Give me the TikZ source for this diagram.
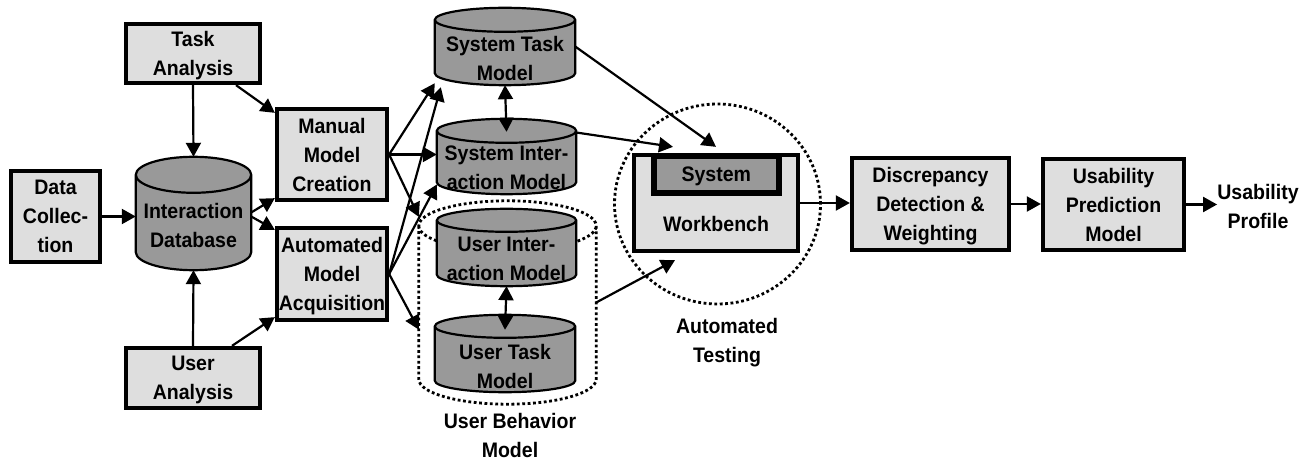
\documentclass[tikz,border=0pt]{standalone}
\usepackage{fontspec}
\usepackage{tikz}
\usetikzlibrary{arrows.meta,calc,shapes.geometric}
\newfontfamily\arialfont[FakeStretch=0.93]{Liberation Sans}
\newcommand{\diagfont}{\arialfont\bfseries\fontsize{21}{29}\selectfont}
\definecolor{boxgray}{gray}{0.87}
\definecolor{cylgray}{gray}{0.6}
\tikzset{
  blk/.style={draw, line width=4.3pt, fill=boxgray, inner sep=0pt, align=center, text depth=0pt, font=\diagfont},
  cylnode/.style={inner sep=0pt},
  cylbody/.style={draw, line width=2.2pt, fill=cylgray},
  dots/.style={draw, line width=2.8pt, dash pattern=on 2.8pt off 2.6pt},
  txt/.style={align=center, font=\diagfont, text depth=0pt, inner sep=0pt},
  arr/.style={line width=2.2pt, -{Triangle[length=14pt,width=15pt]}},
  darr/.style={line width=2.2pt, {Triangle[length=14pt,width=15pt]}-{Triangle[length=14pt,width=15pt]}},
}
% cylinder drawn round an empty node: style, node, y radius of the ends
\newcommand{\cylshape}[3]{%
  \path[#1] let \p1=(#2.north west), \p2=(#2.south east), \n1={(\x2-\x1)/2} in
    (\x1,\y1-#3pt) -- (\x1,\y2+#3pt)
    arc[start angle=180, end angle=360, x radius=\n1, y radius=#3pt]
    -- (\x2,\y1-#3pt)
    arc[start angle=0, end angle=180, x radius=\n1, y radius=#3pt] -- cycle
    (\x1,\y1-#3pt) arc[start angle=180, end angle=360, x radius=\n1, y radius=#3pt];
}
\begin{document}
\begin{tikzpicture}[x=1pt, y=1pt]
  \useasboundingbox (0,0) rectangle (1309,461);

  % boxes
  \node[blk, minimum width=134pt, minimum height=59pt] (ta) at (193,407.5) {Task\\Analysis};
  \node[blk, minimum width=89pt, minimum height=91pt] (dc) at (55.5,244.5) {Data\\Collec-\\tion};
  \node[blk, minimum width=134pt, minimum height=60pt] (ua) at (193,83) {User\\Analysis};
  \node[blk, minimum width=110pt, minimum height=91pt] (man) at (332,306.5) {Manual\\Model\\Creation};
  \node[blk, minimum width=110pt, minimum height=92pt] (au) at (332,187) {Automated\\Model\\Acquisition};
  \node[blk, minimum width=157pt, minimum height=92pt] (dd) at (930.5,257) {Discrepancy\\Detection \&\\Weighting};
  \node[blk, minimum width=141pt, minimum height=91pt] (upm) at (1113.5,256.5) {Usability\\Prediction\\Model};
  \node[txt] (prof) at (1258,254.5) {Usability\\Profile};

  % databases
  \node[cylnode, minimum width=177pt, minimum height=203pt] (ub) at (507.5,158.5) {};
  \cylshape{dots}{ub}{25}
  \node[txt] (ub-t) at (510,26) {User Behavior\\Model};

  \node[cylnode, minimum width=115pt, minimum height=113pt] (db) at (193.5,247.5) {};
  \cylshape{cylbody}{db}{18}
  \node[txt] (db-t) at ([yshift=-12pt]db.center) {Interaction\\Database};

  \node[cylnode, minimum width=140pt, minimum height=77pt] (stm) at (505,414.5) {};
  \cylshape{cylbody}{stm}{12}
  \node[txt] (stm-t) at ([yshift=-12pt]stm.center) {System Task\\Model};

  \node[cylnode, minimum width=139pt, minimum height=75pt] (sim) at (506.5,304.5) {};
  \cylshape{cylbody}{sim}{12}
  \node[txt] (sim-t) at ([yshift=-11pt]sim.center) {System Inter-\\action Model};

  \node[cylnode, minimum width=139pt, minimum height=77pt] (uim) at (506.5,213.5) {};
  \cylshape{cylbody}{uim}{11.5}
  \node[txt] (uim-t) at ([yshift=-11pt]uim.center) {User Inter-\\action Model};

  \node[cylnode, minimum width=140pt, minimum height=77pt] (utm) at (505,107.5) {};
  \cylshape{cylbody}{utm}{11.5}
  \node[txt] (utm-t) at ([yshift=-13pt]utm.center) {User Task\\Model};

  % automated testing
  \node[ellipse, dots, inner sep=0pt, minimum width=206pt, minimum height=200pt] (atest) at (717.5,257) {};
  \node[txt] (atest-t) at (727,121) {Automated\\Testing};
  \node[blk, minimum width=164pt, minimum height=96pt] (wb) at (716,258) {};
  \node[blk, line width=6pt, fill=cylgray, minimum width=124.5pt, minimum height=37pt] (sys) at (716.25,286.5) {System};
  \node[txt] (wb-t) at (716,237) {Workbench};

  % connectors
  \draw[arr] (ta.south) -- (db.north);
  \draw[arr] ([xshift=43pt]ta.south) -- ([yshift=-6pt]man.north west);
  \draw[arr] (ua.north) -- (db.south);
  \draw[arr] ([xshift=39pt]ua.north) -- ([yshift=5pt]au.south west);
  \draw[arr] (dc.east) -- (dc.east -| db.west);
  \draw[arr] ([yshift=1pt]db.east) -- ([yshift=4pt]man.south west);
  \draw[arr] ([yshift=-3pt]db.east) -- ([yshift=-4pt]au.north west);

  \draw[arr] (man.east) -- ([yshift=2pt]stm.south west);
  \draw[arr] (man.east) -- (man.east -| sim.west);
  \draw[arr] (man.east) -- (ub.136);
  \draw[arr] (au.east) -- ([xshift=6pt,yshift=-2pt]stm.south west);
  \draw[arr] (au.east) -- ([yshift=-28pt]sim.west);
  \draw[arr] (au.east) -- (ub.197);

  \draw[darr] (stm.south) -- ([yshift=-13pt]sim.north);
  \draw[darr] (uim.south) -- ([yshift=-15pt]utm.north);

  \draw[arr] (stm.east) -- ([yshift=6pt]wb.north);
  \draw[arr] (sim.19) -- ([xshift=-43pt,yshift=6pt]wb.north);
  \draw[arr] (ub.east) -- ([xshift=-41pt,yshift=-7pt]wb.south);

  \draw[arr] (wb.east) -- (wb.east -| dd.west);
  \draw[arr] (dd.east) -- (dd.east -| upm.west);
  \draw[arr] (upm.east) -- (upm.east -| prof.west);
\end{tikzpicture}
\end{document}
